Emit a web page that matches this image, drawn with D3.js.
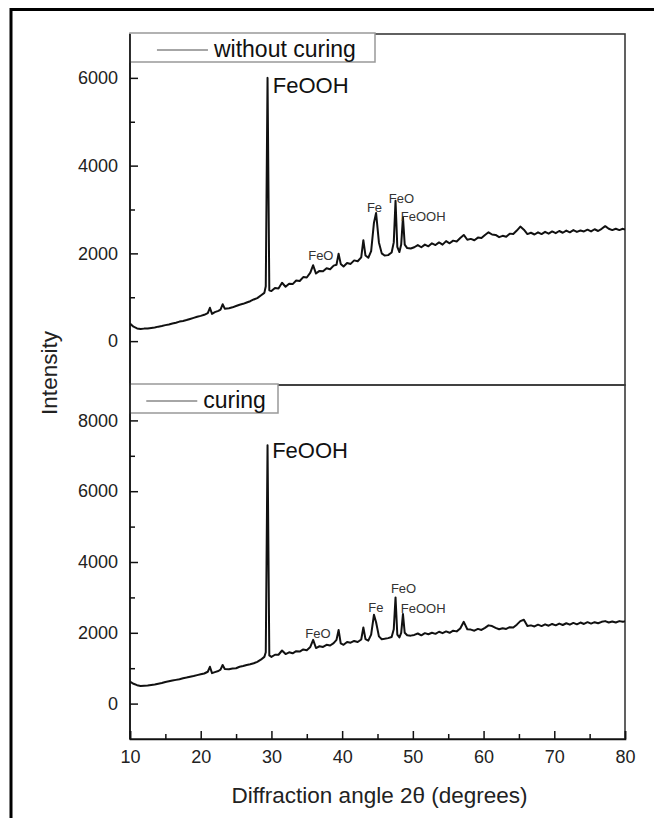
<!DOCTYPE html>
<html>
<head>
<meta charset="utf-8">
<script src="https://cdn.jsdelivr.net/npm/d3@7"></script>
<style>
  html, body { margin: 0; background: #fff; overflow: hidden; }
  svg { display: block; font-family: "Liberation Sans", Arial, sans-serif; }
</style>
</head>
<body>
<div id="chart"></div>
<script>
// 2-theta grid shared by both patterns
const angles = [
  10, 10.5, 11, 11.5, 12, 12.5, 13, 13.5, 14, 14.5, 15, 15.5, 16, 16.5, 17, 17.5, 18, 18.5, 19, 19.5,
  20, 20.5, 21, 21.3, 21.6, 22, 22.5, 22.8, 23.1, 23.4, 24, 24.5, 25, 25.5, 26, 26.5, 27, 27.5, 28, 28.5,
  29, 29.2, 29.45, 29.7, 30, 30.5, 31, 31.5, 32, 32.5, 33, 33.5, 34, 34.5, 35, 35.5, 35.9, 36.3, 36.8, 37.3,
  37.8, 38.3, 38.8, 39.2, 39.5, 39.8, 40.2, 40.7, 41.2, 41.7, 42.2, 42.7, 43.0, 43.3, 43.7, 44.1, 44.5, 44.8, 45.2, 45.6,
  46.0, 46.5, 47.0, 47.3, 47.55, 47.8, 48.1, 48.35, 48.6, 48.85, 49.2, 49.7, 50.2, 50.7, 51.2, 51.7, 52.2, 52.7, 53.2, 53.7,
  54.2, 54.7, 55.2, 55.7, 56.2, 56.7, 57.2, 57.7, 58.2, 58.7, 59.2, 59.7, 60.2, 60.7, 61.2, 61.7, 62.2, 62.7, 63.2, 63.7,
  64.2, 64.7, 65.2, 65.7, 66.2, 66.7, 67.2, 67.7, 68.2, 68.7, 69.2, 69.7, 70.2, 70.7, 71.2, 71.7, 72.2, 72.7, 73.2, 73.7,
  74.2, 74.7, 75.2, 75.7, 76.2, 76.7, 77.2, 77.7, 78.2, 78.7, 79.2, 79.7, 80
];

const withoutCuring = [
  400, 330, 290, 275, 285, 290, 300, 310, 330, 345, 365, 380, 400, 420, 445, 460, 480, 505, 530, 555,
  575, 600, 640, 760, 620, 660, 690, 720, 840, 740, 750, 770, 800, 830, 850, 880, 910, 950, 980, 1040,
  1100, 1250, 6000, 1160, 1140, 1210, 1200, 1330, 1240, 1310, 1300, 1380, 1370, 1460, 1450, 1560, 1730, 1540, 1600, 1590,
  1660, 1640, 1720, 1740, 1990, 1760, 1700, 1780, 1760, 1840, 1820, 1910, 2300, 1950, 1900, 2050, 2700, 2920, 2250, 2000,
  1950, 1960, 2020, 2250, 3200, 2150, 2030, 2200, 2820, 2200, 2120, 2110, 2140, 2190, 2140, 2200, 2160, 2230, 2190, 2250,
  2200, 2280, 2230, 2290, 2270, 2350, 2420, 2310, 2330, 2300, 2360, 2350, 2420, 2480, 2430, 2420, 2370, 2400, 2380, 2450,
  2440, 2520, 2610, 2540, 2440, 2470, 2430, 2480, 2440, 2490, 2450, 2500, 2460, 2510, 2470, 2520, 2480, 2530, 2490, 2520,
  2500, 2540, 2500, 2550, 2510, 2560, 2620, 2560, 2530, 2560, 2530, 2560, 2540
];

const curing = [
  620, 560, 520, 500, 505, 510, 525, 540, 560, 580, 610, 630, 650, 670, 690, 715, 735, 760, 780, 805,
  830, 850, 900, 1040, 860, 890, 920, 960, 1090, 980, 970, 990, 1000, 1040, 1060, 1090, 1110, 1140, 1180, 1240,
  1320, 1450, 7300, 1360, 1320, 1380, 1380, 1500, 1400, 1450, 1420, 1480, 1470, 1530, 1510, 1600, 1800, 1570, 1620, 1600,
  1660, 1640, 1710, 1800, 2080, 1700, 1660, 1740, 1720, 1770, 1740, 1810, 2150, 1820, 1780, 1950, 2510, 2300, 1900, 1820,
  1830, 1850, 1880, 2100, 3000, 1950, 1870, 2000, 2530, 2000, 1930, 1920, 1940, 1980, 1930, 1990, 1960, 2000, 1970, 2030,
  1990, 2040, 2000, 2060, 2040, 2120, 2310, 2100, 2090, 2060, 2110, 2080, 2140, 2210, 2190, 2140, 2100, 2130, 2110, 2160,
  2150, 2230, 2330, 2370, 2190, 2210, 2180, 2230, 2190, 2240, 2200, 2250, 2210, 2260, 2220, 2270, 2230, 2280, 2240, 2290,
  2250, 2300, 2260, 2300, 2270, 2310, 2330, 2290, 2320, 2290, 2330, 2310, 2330
];

// peak labels: text, angle, intensity of the text baseline
const topLabels = [
  ["FeOOH", 30.2, 5650], ["FeO", 35.2, 1850], ["Fe", 43.5, 2940], ["FeO", 46.6, 3150], ["FeOOH", 48.3, 2740]
];
const bottomLabels = [
  ["FeOOH", 30.1, 6940], ["FeO", 34.8, 1850], ["Fe", 43.7, 2590], ["FeO", 46.9, 3120], ["FeOOH", 48.3, 2560]
];

const xMajor = [10, 20, 30, 40, 50, 60, 70, 80];
const xMinor = [15, 25, 35, 45, 55, 65, 75];
const topMajor = [0, 2000, 4000, 6000];
const topMinor = [1000, 3000, 5000];
const bottomMajor = [0, 2000, 4000, 6000, 8000];
const bottomMinor = [1000, 3000, 5000, 7000];

let width = 654;
let height = 818;
let left = 130, right = 625;
let topY0 = 34, midY = 385, botY1 = 739;

let svg = d3.select("#chart").append("svg")
  .attr("width", width)
  .attr("height", height);

svg.append("rect").attr("width", width).attr("height", height).attr("fill", "#fff");

// outer frame, only left and top edges are in the picture
svg.append("path")
  .attr("d", `M11,${height + 5} L11,9.5 L${width + 5},9.5`)
  .attr("fill", "none")
  .attr("stroke", "#000")
  .attr("stroke-width", 3);

let x = d3.scaleLinear().domain([10, 80]).range([left, right]);
let yTop = d3.scaleLinear().domain([-1000, 7000]).range([midY, topY0]);
let yBot = d3.scaleLinear().domain([-1000, 9000]).range([botY1, midY]);

svg.append("clipPath").attr("id", "clip")
  .append("rect")
  .attr("x", left).attr("y", topY0)
  .attr("width", right - left).attr("height", botY1 - topY0);

const drawPanel = (values, y, major, minor, labels, legendText, legendW) => {
  let y0 = y.range()[1], y1 = y.range()[0];

  svg.append("rect")
    .attr("x", left).attr("y", y0)
    .attr("width", right - left).attr("height", y1 - y0)
    .attr("fill", "none")
    .attr("stroke", "#3a3a3a")
    .attr("stroke-width", 1.6);

  let line = d3.line()
    .x((d, i) => x(angles[i]))
    .y(d => y(d));

  svg.append("path")
    .datum(values)
    .attr("clip-path", "url(#clip)")
    .attr("d", line)
    .attr("fill", "none")
    .attr("stroke", "#111")
    .attr("stroke-width", 2)
    .attr("stroke-linejoin", "round");

  let axis = svg.append("g")
    .attr("transform", `translate(${left},0)`)
    .call(d3.axisLeft(y).tickValues(major).tickFormat(d3.format("d")).tickSize(-8).tickPadding(12));
  axis.select(".domain").remove();
  axis.selectAll("line").attr("stroke", "#111").attr("stroke-width", 1.5);
  axis.selectAll("text").attr("font-size", 18).attr("fill", "#222").attr("font-family", "Liberation Sans, Arial, sans-serif");

  let minorAxis = svg.append("g")
    .attr("transform", `translate(${left},0)`)
    .call(d3.axisLeft(y).tickValues(minor).tickFormat("").tickSize(-5));
  minorAxis.select(".domain").remove();
  minorAxis.selectAll("line").attr("stroke", "#111").attr("stroke-width", 1.5);

  labels.forEach((l, i) => {
    svg.append("text")
      .attr("x", x(l[1]))
      .attr("y", y(l[2]))
      .attr("font-size", i === 0 ? 22 : 13)
      .attr("fill", i === 0 ? "#111" : "#333")
      .text(l[0]);
  });

  // legend box
  svg.append("rect")
    .attr("x", left).attr("y", y0 - 1)
    .attr("width", legendW).attr("height", 29)
    .attr("fill", "#fff")
    .attr("stroke", "#999")
    .attr("stroke-width", 1.5);
  let ly = y0 + 16;
  svg.append("line")
    .attr("x1", left + legendW * 0.11).attr("x2", left + legendW * 0.11 + 51)
    .attr("y1", ly).attr("y2", ly)
    .attr("stroke", "#888")
    .attr("stroke-width", 1.5);
  svg.append("text")
    .attr("x", left + legendW * 0.11 + 57)
    .attr("y", y0 + 23)
    .attr("font-size", 23)
    .attr("fill", "#111")
    .text(legendText);
};

drawPanel(withoutCuring, yTop, topMajor, topMinor, topLabels, "without curing", 245);
drawPanel(curing, yBot, bottomMajor, bottomMinor, bottomLabels, "curing", 148);

// left axis line in black
svg.append("line")
  .attr("x1", left).attr("x2", left)
  .attr("y1", topY0).attr("y2", botY1)
  .attr("stroke", "#111")
  .attr("stroke-width", 1.6);

// x axis along the bottom panel
let xAxis = svg.append("g")
  .attr("transform", `translate(0,${botY1})`)
  .call(d3.axisBottom(x).tickValues(xMajor).tickSize(-8).tickPadding(11));
xAxis.select(".domain").attr("stroke", "#111").attr("stroke-width", 1.6);
xAxis.selectAll("line").attr("stroke", "#111").attr("stroke-width", 1.5);
xAxis.selectAll("text").attr("font-size", 18).attr("fill", "#222").attr("font-family", "Liberation Sans, Arial, sans-serif");

let xMinorAxis = svg.append("g")
  .attr("transform", `translate(0,${botY1})`)
  .call(d3.axisBottom(x).tickValues(xMinor).tickFormat("").tickSize(-5));
xMinorAxis.select(".domain").remove();
xMinorAxis.selectAll("line").attr("stroke", "#111").attr("stroke-width", 1.5);

svg.append("text")
  .attr("x", (left + right) / 2 + 2)
  .attr("y", 803)
  .attr("text-anchor", "middle")
  .attr("font-size", 22.5)
  .attr("fill", "#222")
  .text("Diffraction angle 2θ (degrees)");

svg.append("text")
  .attr("transform", "translate(57,373) rotate(-90)")
  .attr("text-anchor", "middle")
  .attr("font-size", 22.5)
  .attr("fill", "#222")
  .text("Intensity");
</script>
</body>
</html>
